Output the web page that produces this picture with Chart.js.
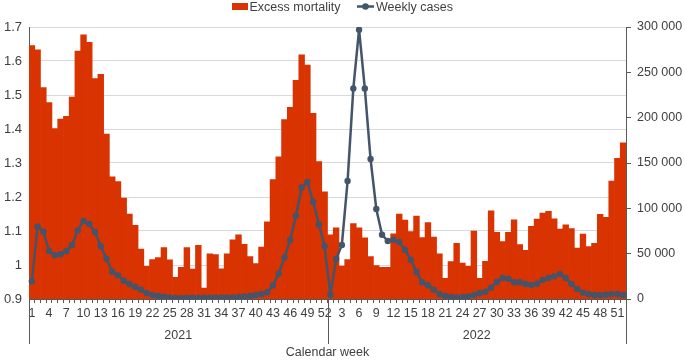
<!DOCTYPE html>
<html><head><meta charset="utf-8">
<script src="https://cdn.jsdelivr.net/npm/chart.js@4.4.1/dist/chart.umd.min.js"></script>
<style>html,body{margin:0;padding:0;background:#fff}canvas{display:block}</style>
</head><body>
<canvas id="c" width="685" height="360"></canvas>
<script>
// ---- Data ----
const weekLabels = [
 '1','2','3','4','5','6','7','8','9','10','11','12','13','14','15','16','17','18','19','20','21','22','23','24','25','26',
 '27','28','29','30','31','32','33','34','35','36','37','38','39','40','41','42','43','44','45','46','47','48','49','50','51','52',
 '1','2','3','4','5','6','7','8','9','10','11','12','13','14','15','16','17','18','19','20','21','22','23','24','25','26',
 '27','28','29','30','31','32','33','34','35','36','37','38','39','40','41','42','43','44','45','46','47','48','49','50','51','52'
];
const yearLabels = ['2021', '2022'];
const axisTitle = 'Calendar week';

const excessMortality2021 = [
 1.645,1.633,1.522,1.478,1.401,1.429,1.437,1.494,1.629,1.677,1.655,1.548,1.561,1.385,1.259,1.245,1.197,1.150,1.117,1.047,
 0.996,1.016,1.022,1.051,1.015,0.964,0.993,1.051,0.988,1.058,0.932,1.033,1.031,0.989,1.033,1.074,1.089,1.061,1.025,1.004,
 1.053,1.127,1.251,1.318,1.428,1.464,1.543,1.618,1.588,1.446,1.304,1.215
];
const excessMortality2022 = [
 1.089,1.109,0.997,1.016,1.122,1.109,1.080,1.025,0.998,0.993,0.993,1.092,1.150,1.132,1.098,1.144,1.081,1.125,1.082,1.033,
 0.961,1.010,1.064,1.006,0.996,1.100,0.961,1.011,1.159,1.096,1.069,1.096,1.133,1.060,1.043,1.114,1.135,1.153,1.158,1.136,
 1.106,1.118,1.107,1.050,1.091,1.054,1.064,1.149,1.140,1.247,1.314,1.359
];
const weeklyCases2021 = [
 19500,80100,74300,52900,48200,49300,52900,59600,75700,86000,82700,73900,58100,44500,30100,26100,20200,16500,13200,10300,
 6600,4400,3300,2600,1800,1100,1100,1300,1300,1300,1400,1400,1500,1600,1800,1800,2200,2900,3300,4400,
 5500,7400,15100,27900,45900,65100,91900,123100,129000,107000,82300,58100
];
const weeklyCases2022 = [
 4800,44100,59600,130100,232300,297000,232300,154400,99300,70900,64000,65400,62900,54400,43400,29800,18400,15100,10300,5500,
 3300,2200,1800,2200,2900,4400,6600,8100,12500,18700,23200,22400,18400,18400,16500,15400,16900,21000,23200,25000,
 27600,23200,16500,11000,7000,5500,4400,4400,4800,5500,5500,4400
];

const excessMortality = excessMortality2021.concat(excessMortality2022);
const weeklyCases = weeklyCases2021.concat(weeklyCases2022);

// ---- Styles ----
const FONT = "'Liberation Sans', Arial, Helvetica, sans-serif";
const TEXT = '#404040';
const AXIS = '#595959';
const BAR = '#d83300';
const LINE = '#44546a';
Chart.defaults.font.family = FONT;
Chart.defaults.font.size = 12.5;
Chart.defaults.color = TEXT;

function fmtThousands(v) {
  return String(v).replace(/\B(?=(\d{3})+(?!\d))/g, ' ');
}

const legendPlugin = {
  id: 'customLegend',
  afterDraw(chart) {
    const ctx = chart.ctx;
    ctx.save();
    ctx.font = '12.5px ' + FONT;
    ctx.textBaseline = 'alphabetic';
    ctx.fillStyle = BAR;
    ctx.fillRect(232, 3, 16, 7);
    ctx.fillStyle = TEXT;
    ctx.fillText(chart.data.datasets[0].label, 249.5, 10.5);
    ctx.strokeStyle = LINE;
    ctx.lineWidth = 2.5;
    ctx.beginPath();
    ctx.moveTo(357, 6.5);
    ctx.lineTo(374, 6.5);
    ctx.stroke();
    ctx.fillStyle = LINE;
    ctx.beginPath();
    ctx.arc(365.5, 6.5, 3.3, 0, Math.PI * 2);
    ctx.fill();
    ctx.fillStyle = TEXT;
    ctx.fillText(chart.data.datasets[1].label, 376, 10.5);
    ctx.restore();
  }
};

const decorPlugin = {
  id: 'yearDecor',
  afterDraw(chart) {
    const ctx = chart.ctx;
    const x = chart.scales.x;
    const area = chart.chartArea;
    const n = weekLabels.length;
    const half = n / 2;
    const boundary = (x.getPixelForValue(half - 1) + x.getPixelForValue(half)) / 2;
    ctx.save();
    ctx.strokeStyle = AXIS;
    ctx.lineWidth = 1;
    [area.left, boundary, area.right].forEach(px => {
      const xx = Math.round(px) + 0.5;
      ctx.beginPath();
      ctx.moveTo(xx, area.bottom);
      ctx.lineTo(xx, 344);
      ctx.stroke();
    });
    ctx.font = '12.5px ' + FONT;
    ctx.fillStyle = TEXT;
    ctx.textAlign = 'center';
    ctx.textBaseline = 'middle';
    const c1 = (x.getPixelForValue(0) + x.getPixelForValue(half - 1)) / 2;
    const c2 = (x.getPixelForValue(half) + x.getPixelForValue(n - 1)) / 2;
    ctx.fillText(yearLabels[0], c1, 336);
    ctx.fillText(yearLabels[1], c2, 336);
    ctx.fillText(axisTitle, boundary, 352.5);
    ctx.restore();
  }
};

new Chart(document.getElementById('c'), {
  data: {
    labels: weekLabels,
    datasets: [
      {
        type: 'bar', label: 'Excess mortality', data: excessMortality,
        backgroundColor: BAR, borderWidth: 0, yAxisID: 'y', order: 2,
        categoryPercentage: 1.0, barPercentage: 1.0
      },
      {
        type: 'line', label: 'Weekly cases', data: weeklyCases,
        borderColor: LINE, backgroundColor: LINE, borderWidth: 2.5,
        pointRadius: 3.2, pointBorderWidth: 0, pointBackgroundColor: LINE,
        tension: 0, yAxisID: 'y1', order: 1
      }
    ]
  },
  options: {
    responsive: false,
    animation: false,
    devicePixelRatio: 1,
    layout: { padding: { top: 27, left: 0, right: 0, bottom: 0 } },
    plugins: { legend: { display: false }, tooltip: { enabled: false } },
    scales: {
      x: {
        type: 'category', offset: true,
        grid: { offset: true, drawOnChartArea: false, drawTicks: true, tickLength: 4, color: AXIS },
        border: { display: true, color: AXIS },
        ticks: {
          autoSkip: false, maxRotation: 0, minRotation: 0, padding: 3,
          callback: (v, i) => (i % 3 === 0 ? weekLabels[i] : '')
        },
        afterFit: s => { s.height = 61; }
      },
      y: {
        position: 'left', min: 0.9, max: 1.7,
        ticks: { stepSize: 0.1, padding: 7, font: { size: 13 }, callback: v => String(Math.round(v * 10) / 10) },
        grid: { color: '#d9d9d9', drawTicks: false },
        border: { display: true, color: AXIS },
        afterFit: s => { s.width = 29; }
      },
      y1: {
        position: 'right', min: 0, max: 300000,
        ticks: { stepSize: 50000, padding: 6, callback: v => fmtThousands(v) },
        grid: { drawOnChartArea: false, drawTicks: true, tickLength: 5, color: AXIS },
        border: { display: true, color: AXIS },
        afterFit: s => { s.width = 59; }
      }
    }
  },
  plugins: [legendPlugin, decorPlugin]
});
</script>
</body></html>
